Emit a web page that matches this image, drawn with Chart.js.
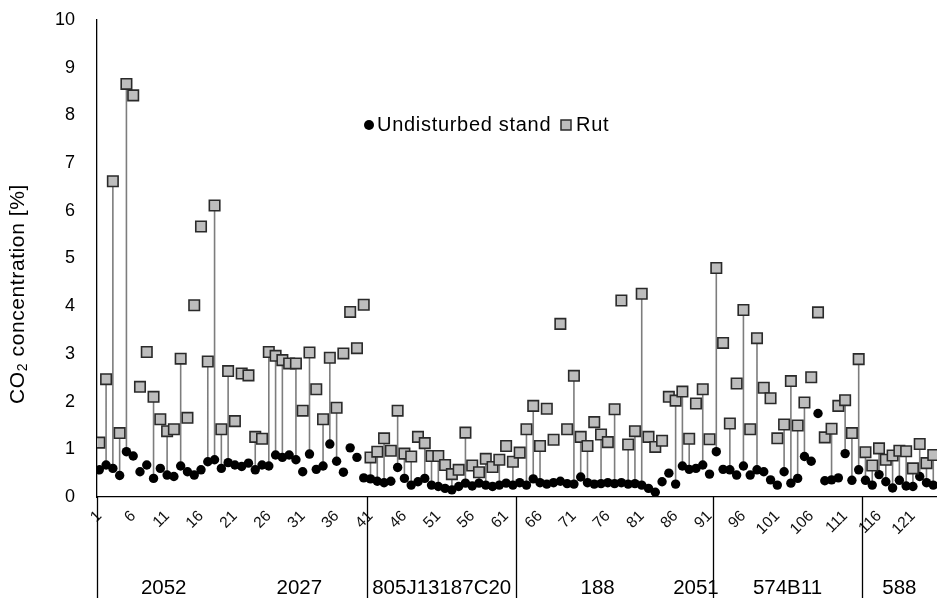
<!DOCTYPE html>
<html>
<head>
<meta charset="utf-8">
<script src="https://cdn.jsdelivr.net/npm/chart.js@4.4.0/dist/chart.umd.min.js"></script>
<style>
    html, body { margin: 0; padding: 0; background: #fff; }
    #wrap { position: relative; width: 937px; height: 598px; }
</style>
</head>
<body>
<div id="wrap"><canvas id="graphe"></canvas></div>
<script>
const undisturbed = [
    0.57, 0.67, 0.60, 0.45, 0.95, 0.86, 0.53, 0.67, 0.39, 0.60,
    0.46, 0.43, 0.65, 0.53, 0.46, 0.57, 0.74, 0.78, 0.60, 0.72,
    0.67, 0.64, 0.71, 0.57, 0.67, 0.65, 0.88, 0.83, 0.88, 0.78,
    0.53, 0.90, 0.58, 0.65, 1.11, 0.75, 0.52, 1.03, 0.83, 0.40,
    0.38, 0.33, 0.30, 0.33, 0.62, 0.39, 0.25, 0.32, 0.39, 0.25,
    0.22, 0.18, 0.15, 0.22, 0.29, 0.23, 0.29, 0.25, 0.22, 0.25,
    0.29, 0.25, 0.30, 0.25, 0.38, 0.30, 0.27, 0.30, 0.33, 0.28,
    0.27, 0.42, 0.30, 0.27, 0.28, 0.30, 0.28, 0.30, 0.27, 0.28,
    0.25, 0.18, 0.10, 0.32, 0.50, 0.27, 0.65, 0.58, 0.60, 0.67,
    0.48, 0.95, 0.58, 0.57, 0.46, 0.65, 0.46, 0.57, 0.53, 0.36,
    0.25, 0.53, 0.29, 0.39, 0.85, 0.75, 1.75, 0.34, 0.36, 0.40,
    0.91, 0.35, 0.57, 0.35, 0.25, 0.47, 0.32, 0.19, 0.35, 0.23,
    0.22, 0.43, 0.30, 0.25
];
const rut = [
    1.14, 2.47, 6.62, 1.34, 8.66, 8.42, 2.31, 3.04, 2.10, 1.63,
    1.38, 1.42, 2.90, 1.66, 4.02, 5.67, 2.84, 6.11, 1.42, 2.64,
    1.59, 2.59, 2.55, 1.26, 1.22, 3.04, 2.96, 2.87, 2.80, 2.80,
    1.81, 3.03, 2.26, 1.63, 2.92, 1.87, 3.01, 3.88, 3.12, 4.03,
    0.83, 0.95, 1.23, 0.97, 1.81, 0.91, 0.85, 1.26, 1.13, 0.86,
    0.86, 0.67, 0.48, 0.57, 1.35, 0.66, 0.52, 0.80, 0.63, 0.78,
    1.07, 0.74, 0.93, 1.42, 1.91, 1.07, 1.85, 1.20, 3.63, 1.42,
    2.54, 1.26, 1.07, 1.57, 1.31, 1.15, 1.84, 4.12, 1.10, 1.38,
    4.26, 1.26, 1.05, 1.18, 2.10, 2.02, 2.21, 1.22, 1.96, 2.26,
    1.21, 4.80, 3.23, 1.54, 2.38, 3.92, 1.42, 3.33, 2.29, 2.07,
    1.23, 1.52, 2.43, 1.50, 1.98, 2.51, 3.87, 1.25, 1.43, 1.91,
    2.03, 1.34, 2.89, 0.94, 0.66, 1.02, 0.78, 0.87, 0.97, 0.96,
    0.60, 1.11, 0.71, 0.88
];
// points where a vertical line joins the two series
const linkedCats = [
    2, 3, 4, 5, 9, 11, 13, 17, 18, 19, 20, 24, 26, 27, 28, 30, 32, 34, 35, 36,
    41, 42, 43, 45, 46, 47, 49, 50, 51, 53, 55, 57, 58, 60, 62,
    64, 65, 66, 71, 72, 73, 75, 77, 79, 80, 81, 86, 87, 88, 90,
    92, 94, 96, 98, 102, 103, 104, 105, 109, 111, 112, 113,
    114, 115, 116, 117, 118, 119, 120, 121, 122, 123, 124
];
const tickValues = [1, 6, 11, 16, 21, 26, 31, 36, 41, 46, 51, 56, 61, 66, 71, 76, 81, 86, 91, 96, 101, 106, 111, 116, 121];
const groupNames = ['2052', '2027', '805J13187C20', '188', '2051', '574B11', '588'];
const groupFrom = [1, 21, 41, 63, 87, 92, 114];
const groupTo = [20, 40, 62, 86, 91, 113, 124];
const groupEdges = [40.5, 62.5, 91.5, 113.5];

const FONT = '"Liberation Sans", Arial, sans-serif';

function toPoints(values) {
    return values.map((v, i) => ({ x: i + 1, y: v }));
}

// vertical lines between the stand and the rut value
const linkLines = {
    id: 'linkLines',
    beforeDatasetsDraw(chart) {
        const xs = chart.scales.x, ys = chart.scales.y, ctx = chart.ctx;
        ctx.save();
        ctx.strokeStyle = '#7d7d7d';
        ctx.lineWidth = 1.6;
        ctx.beginPath();
        linkedCats.forEach(c => {
            const px = xs.getPixelForValue(c);
            ctx.moveTo(px, ys.getPixelForValue(undisturbed[c - 1]));
            ctx.lineTo(px, ys.getPixelForValue(rut[c - 1]));
        });
        ctx.stroke();
        ctx.restore();
    }
};

// group separators and stand names under the axis
const groups = {
    id: 'groups',
    afterDraw(chart) {
        const xs = chart.scales.x, ctx = chart.ctx, area = chart.chartArea;
        ctx.save();
        ctx.strokeStyle = '#000';
        ctx.lineWidth = 1.3;
        ctx.beginPath();
        ctx.moveTo(area.left + 0.5, area.bottom);
        ctx.lineTo(area.left + 0.5, chart.height);
        groupEdges.forEach(e => {
            const px = Math.round(xs.getPixelForValue(e)) + 0.5;
            ctx.moveTo(px, area.bottom);
            ctx.lineTo(px, chart.height);
        });
        ctx.stroke();
        ctx.fillStyle = '#000';
        ctx.font = '20.5px ' + FONT;
        ctx.textAlign = 'center';
        ctx.textBaseline = 'middle';
        groupNames.forEach((name, i) => {
            const mid = (groupFrom[i] + groupTo[i]) / 2;
            ctx.fillText(name, xs.getPixelForValue(mid), 588);
        });
        ctx.restore();
    }
};

// axis title with a subscript 2
const yTitle = {
    id: 'yTitle',
    afterDraw(chart) {
        const ctx = chart.ctx;
        const big = '21px ' + FONT, small = '14px ' + FONT;
        ctx.save();
        ctx.translate(18, 294);
        ctx.rotate(-Math.PI / 2);
        ctx.fillStyle = '#000';
        ctx.textBaseline = 'middle';
        ctx.letterSpacing = '0.6px';
        ctx.font = big;
        const w1 = ctx.measureText('CO').width;
        const w3 = ctx.measureText(' concentration [%]').width;
        ctx.font = small;
        const w2 = ctx.measureText('2').width;
        let x0 = -(w1 + w2 + w3) / 2;
        ctx.font = big;
        ctx.fillText('CO', x0, 0);
        ctx.font = small;
        ctx.fillText('2', x0 + w1, 5);
        ctx.font = big;
        ctx.fillText(' concentration [%]', x0 + w1 + w2, 0);
        ctx.restore();
    }
};

// legend inside the plot
const innerLegend = {
    id: 'innerLegend',
    afterDraw(chart) {
        const ctx = chart.ctx;
        const y = 125;
        ctx.save();
        ctx.font = '20px ' + FONT;
        ctx.letterSpacing = '0.7px';
        ctx.textBaseline = 'middle';
        ctx.fillStyle = '#000';
        ctx.beginPath();
        ctx.arc(369, y, 5, 0, Math.PI * 2);
        ctx.fill();
        ctx.fillText('Undisturbed stand', 377, y);
        ctx.fillStyle = '#bdbdbd';
        ctx.strokeStyle = '#2a2a2a';
        ctx.lineWidth = 1.5;
        ctx.fillRect(561, y - 5, 10, 10);
        ctx.strokeRect(561, y - 5, 10, 10);
        ctx.fillStyle = '#000';
        ctx.fillText('Rut', 576, y);
        ctx.restore();
    }
};

new Chart(document.getElementById('graphe').getContext('2d'), {
    type: 'scatter',
    data: {
        datasets: [{
            label: 'Rut',
            data: toPoints(rut),
            pointStyle: 'rect',
            pointRadius: 7.4,
            backgroundColor: '#bdbdbd',
            borderColor: '#2a2a2a',
            borderWidth: 1.6,
            order: 0
        }, {
            label: 'Undisturbed stand',
            data: toPoints(undisturbed),
            pointStyle: 'circle',
            pointRadius: 4.7,
            backgroundColor: '#000',
            borderColor: '#000',
            borderWidth: 0,
            order: 1
        }]
    },
    options: {
        responsive: true,
        maintainAspectRatio: false,
        animation: false,
        layout: { autoPadding: false, padding: { top: 20, left: 0, right: 0, bottom: 0 } },
        plugins: {
            legend: { display: false },
            tooltip: { enabled: false }
        },
        scales: {
            x: {
                type: 'linear',
                min: 0.66,
                max: 124.55,
                grid: { display: false, drawTicks: false },
                border: { display: true, color: '#000', width: 1.3 },
                afterBuildTicks: s => { s.ticks = tickValues.map(v => ({ value: v })); },
                afterFit: s => { s.height = 101; },
                ticks: {
                    autoSkip: false,
                    minRotation: 45,
                    maxRotation: 45,
                    padding: 10,
                    color: '#111',
                    font: { family: FONT, size: 15.5 }
                }
            },
            y: {
                min: 0,
                max: 10,
                grid: { display: false, drawTicks: false },
                border: { display: true, color: '#000', width: 1.3 },
                // fixed width, and no extra room above the top label
                afterFit: s => { s.width = 97; s.paddingTop = 0; s.paddingBottom = 0; },
                ticks: {
                    stepSize: 1,
                    padding: 22,
                    color: '#000',
                    font: { family: FONT, size: 18 }
                }
            }
        }
    },
    plugins: [linkLines, groups, yTitle, innerLegend]
});
</script>
</body>
</html>
